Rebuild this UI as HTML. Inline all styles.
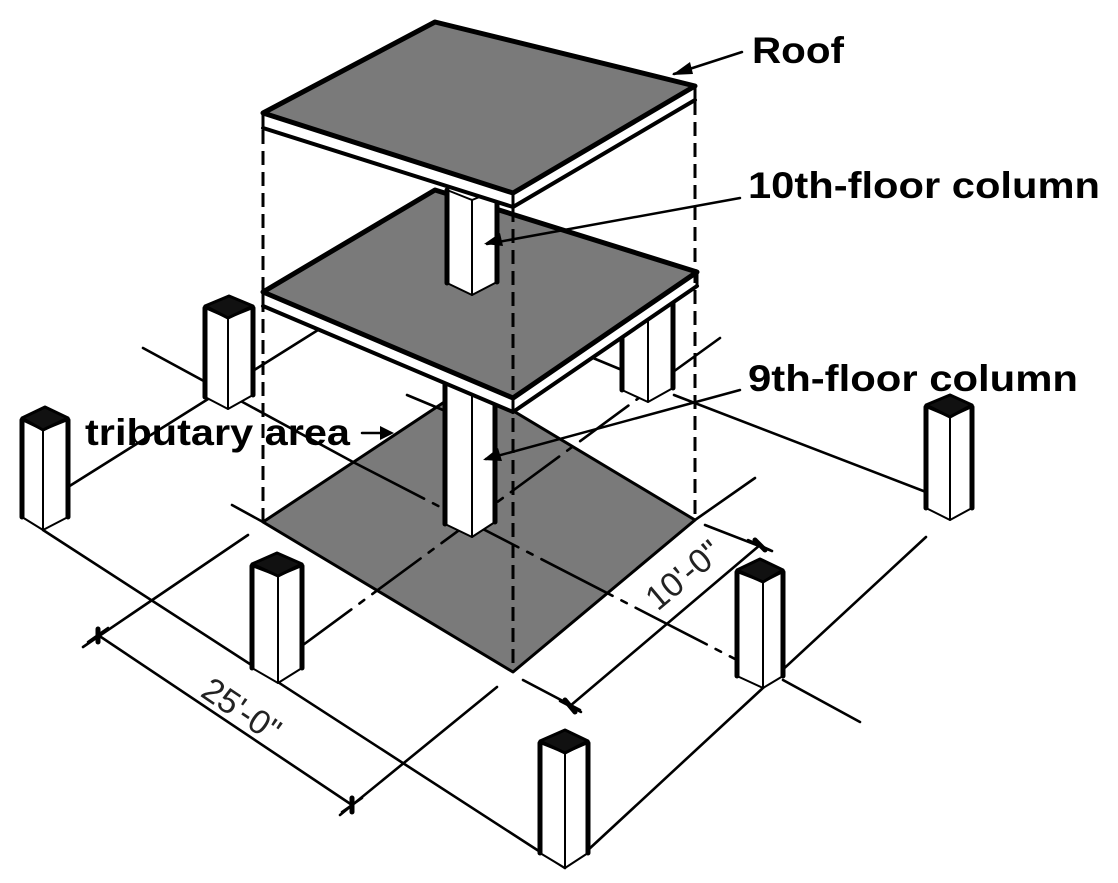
<!DOCTYPE html>
<html><head><meta charset="utf-8"><style>
html,body{margin:0;padding:0;background:#fff;}
svg{display:block;}
.l{font-family:"Liberation Sans",Arial,sans-serif;font-weight:bold;font-size:37px;fill:#000;}
.d{font-family:"Liberation Sans",Arial,sans-serif;font-size:34px;fill:#222;}
</style></head><body>
<svg width="1118" height="883" viewBox="0 0 1118 883" xmlns="http://www.w3.org/2000/svg">
<g stroke="#000" stroke-linecap="round" stroke-linejoin="round" fill="none">
<polygon points="263,522 470,385 695,520 513,672" fill="#7a7a7a" stroke="#000" stroke-width="3"/>
<g stroke-width="2.6">
<line x1="43" y1="530" x2="565" y2="868"/>
<line x1="68" y1="487" x2="318" y2="330"/>
<line x1="143" y1="348" x2="353" y2="462"/>
<line x1="353" y1="462" x2="737" y2="660" stroke-dasharray="80 10 6 10"/>
<line x1="783" y1="680" x2="860" y2="722"/>
<line x1="303" y1="645" x2="651" y2="389" stroke-dasharray="60 10 6 10"/>
<line x1="673" y1="372" x2="720" y2="338"/>
<line x1="588" y1="850" x2="926" y2="537"/>
<line x1="674" y1="395" x2="926" y2="492"/>
<line x1="407" y1="395" x2="443" y2="410"/>
<line x1="593" y1="358" x2="622" y2="370"/>
<line x1="232" y1="505" x2="263" y2="522"/>
<line x1="695" y1="520" x2="755" y2="478"/>
<line x1="248" y1="535" x2="83" y2="647"/>
<line x1="497" y1="687" x2="340" y2="815"/>
<line x1="98" y1="635" x2="352" y2="805"/>
<line x1="705" y1="525" x2="772" y2="551"/>
<line x1="523" y1="680" x2="580" y2="710"/>
<line x1="570" y1="706" x2="760" y2="545"/>
</g>
<g stroke-width="2.5">
<line x1="88" y1="642" x2="108" y2="628"/><line x1="342" y1="812" x2="362" y2="798"/>
<line x1="560" y1="701" x2="581" y2="712"/><line x1="748" y1="540" x2="770" y2="550"/>
</g>
<g stroke-width="5">
<line x1="98" y1="629" x2="98" y2="642"/><line x1="352" y1="798" x2="352" y2="812"/>
<line x1="565" y1="700" x2="575" y2="712"/><line x1="755" y1="540" x2="765" y2="550"/>
</g>

<g fill="#fff">
<polygon points="22,420 43,430 43,530 22,517" stroke-width="2"/><polygon points="43,430 68,420 68,517 43,530" stroke-width="2"/>
<line x1="22" y1="420" x2="22" y2="517" stroke-width="5"/><line x1="68" y1="420" x2="68" y2="517" stroke-width="5"/>
<polygon points="22,418 45,407 68,418 43,430" fill="#111" stroke-width="3"/>
<polygon points="205,308 228,318 228,409 205,397" stroke-width="2"/><polygon points="228,318 253,308 253,395 228,409" stroke-width="2"/>
<line x1="205" y1="308" x2="205" y2="397" stroke-width="5"/><line x1="253" y1="308" x2="253" y2="395" stroke-width="5"/>
<polygon points="205,306 229,296 253,306 228,318" fill="#111" stroke-width="3"/>
<polygon points="252,566 278,576 278,683 252,668" stroke-width="2"/><polygon points="278,576 302,566 302,668 278,683" stroke-width="2"/>
<line x1="252" y1="566" x2="252" y2="668" stroke-width="5"/><line x1="302" y1="566" x2="302" y2="668" stroke-width="5"/>
<polygon points="252,564 277,553 302,564 278,576" fill="#111" stroke-width="3"/>
<polygon points="540,743 565,753 565,868 540,853" stroke-width="2"/><polygon points="565,753 588,743 588,853 565,868" stroke-width="2"/>
<line x1="540" y1="743" x2="540" y2="853" stroke-width="5"/><line x1="588" y1="743" x2="588" y2="853" stroke-width="5"/>
<polygon points="540,741 565,730 588,741 565,753" fill="#111" stroke-width="3"/>
<polygon points="737,572 763,582 763,688 737,676" stroke-width="2"/><polygon points="763,582 783,572 783,676 763,688" stroke-width="2"/>
<line x1="737" y1="572" x2="737" y2="676" stroke-width="5"/><line x1="783" y1="572" x2="783" y2="676" stroke-width="5"/>
<polygon points="737,570 760,559 783,570 763,582" fill="#111" stroke-width="3"/>
<polygon points="926,407 950,417 950,520 926,508" stroke-width="2"/><polygon points="950,417 972,407 972,508 950,520" stroke-width="2"/>
<line x1="926" y1="407" x2="926" y2="508" stroke-width="5"/><line x1="972" y1="407" x2="972" y2="508" stroke-width="5"/>
<polygon points="926,405 950,395 972,405 950,417" fill="#111" stroke-width="3"/>
<polygon points="622,300 648,300 648,402 622,390" stroke-width="2"/><polygon points="648,300 673,290 673,388 648,402" stroke-width="2"/>
<line x1="622" y1="300" x2="622" y2="390" stroke-width="5"/><line x1="673" y1="290" x2="673" y2="388" stroke-width="5"/>
<polygon points="445,380 472,390 472,537 445,524" stroke-width="2"/><polygon points="472,390 495,380 495,522 472,537" stroke-width="2"/>
<line x1="445" y1="380" x2="445" y2="524" stroke-width="5"/><line x1="495" y1="380" x2="495" y2="522" stroke-width="5"/>
</g>

<polygon points="263,292 513,398 513,412 263,306" fill="#fff" stroke-width="3"/>
<polygon points="513,398 697,272 697,286 513,412" fill="#fff" stroke-width="3"/>
<polygon points="263,292 435,190 697,272 513,398" fill="#7a7a7a" stroke-width="5"/>
<line x1="263" y1="306" x2="513" y2="412" stroke-width="4"/><line x1="513" y1="412" x2="697" y2="286" stroke-width="4"/>

<g fill="#fff">
<polygon points="447,190 472,200 472,295 447,283" stroke-width="2"/><polygon points="472,200 497,190 497,282 472,295" stroke-width="2"/>
<line x1="447" y1="190" x2="447" y2="283" stroke-width="5"/><line x1="497" y1="190" x2="497" y2="282" stroke-width="5"/>
</g>

<polygon points="263,113 513,193 513,207 263,128" fill="#fff" stroke-width="3"/>
<polygon points="513,193 695,86 695,100 513,207" fill="#fff" stroke-width="3"/>
<polygon points="263,113 435,22 695,86 513,193" fill="#7a7a7a" stroke-width="5"/>
<line x1="263" y1="128" x2="513" y2="207" stroke-width="4"/><line x1="513" y1="207" x2="695" y2="100" stroke-width="4"/>

<g stroke-width="3" stroke-dasharray="14 7" stroke-linecap="butt">
<line x1="263" y1="130" x2="263" y2="522"/>
<line x1="513" y1="208" x2="513" y2="672"/>
<line x1="695" y1="101" x2="695" y2="520"/>
</g>

<g stroke-width="2.5">
<line x1="742" y1="52" x2="674" y2="74"/>
<line x1="740" y1="198" x2="487" y2="244"/>
<line x1="740" y1="390" x2="486" y2="459"/>
<line x1="362" y1="433" x2="390" y2="433"/>
</g>
<g fill="#000" stroke="none">
<polygon points="672,75 690,62 693,74"/>
<polygon points="484,244 500,233 503,246"/>
<polygon points="483,460 498,448 502,461"/>
<polygon points="394,433 380,426 380,440"/>
</g>
</g>

<text class="l" x="752" y="63" textLength="92" lengthAdjust="spacingAndGlyphs">Roof</text>
<text class="l" x="748" y="198" textLength="352" lengthAdjust="spacingAndGlyphs">10th-floor column</text>
<text class="l" x="748" y="391" textLength="330" lengthAdjust="spacingAndGlyphs">9th-floor column</text>
<text class="l" x="85" y="445" textLength="265" lengthAdjust="spacingAndGlyphs">tributary area</text>
<text class="d" transform="translate(240,712) rotate(34)" text-anchor="middle" dominant-baseline="middle">25'-0"</text>
<text class="d" transform="translate(685,577) rotate(-40)" text-anchor="middle" dominant-baseline="middle">10'-0"</text>
</svg>
</body></html>
